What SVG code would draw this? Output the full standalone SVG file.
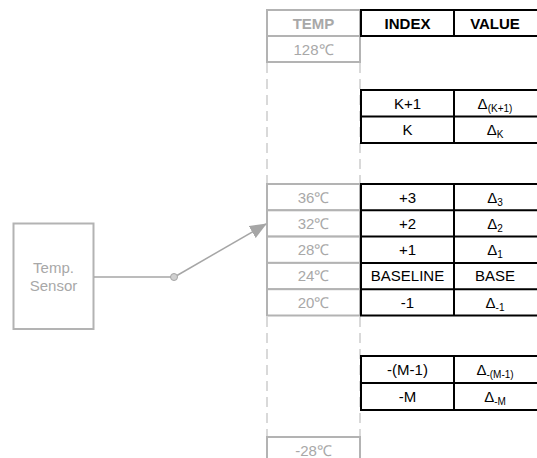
<svg xmlns="http://www.w3.org/2000/svg" width="537" height="458" viewBox="0 0 537 458">
<style>
.g{fill:#fff;stroke:#b3b3b3;stroke-width:2}
.b{fill:#fff;stroke:#000;stroke-width:2}
.d{stroke:#b3b3b3;stroke-width:1;stroke-dasharray:10,6;fill:none}
.gt{font-family:"Liberation Sans",Arial,sans-serif;font-size:15px;fill:#a8a8a8;text-anchor:middle}
.bt{font-family:"Liberation Sans",Arial,sans-serif;font-size:15px;fill:#000;text-anchor:middle}
.hb{font-weight:bold}
.sub{font-size:10px}
.c{stroke:#a6a6a6;stroke-width:1.5;fill:none}
</style>
<defs>
<marker id="ah" markerWidth="17" markerHeight="14" refX="16" refY="7" orient="auto" markerUnits="userSpaceOnUse" viewBox="0 0 17 14">
<path d="M0,0 L17,7 L0,14 z" fill="#a6a6a6"/>
</marker>
</defs>
<rect width="537" height="458" fill="#fff"/>
<g id="dashes">
<line class="d" x1="267" y1="63" x2="267" y2="184"/>
<line class="d" x1="360" y1="63" x2="360" y2="184"/>
<line class="d" x1="267" y1="317" x2="267" y2="437"/>
<line class="d" x1="360" y1="317" x2="360" y2="437"/>
</g>
<g id="temp-col">
<rect class="g" x="267" y="10" width="93" height="26"/>
<text class="gt hb" x="313.5" y="28.5">TEMP</text>
<rect class="g" x="267" y="36" width="93" height="26"/>
<text class="gt" x="313.5" y="54.5">128℃</text>
<rect class="g" x="267" y="184" width="93" height="26.3"/>
<text class="gt" x="313.5" y="202.5">36℃</text>
<rect class="g" x="267" y="210.3" width="93" height="26.3"/>
<text class="gt" x="313.5" y="228.8">32℃</text>
<rect class="g" x="267" y="236.6" width="93" height="26.3"/>
<text class="gt" x="313.5" y="255.1">28℃</text>
<rect class="g" x="267" y="262.9" width="93" height="26.3"/>
<text class="gt" x="313.5" y="281.4">24℃</text>
<rect class="g" x="267" y="289.2" width="93" height="26.3"/>
<text class="gt" x="313.5" y="307.7">20℃</text>
<rect class="g" x="267" y="437" width="93" height="30"/>
<text class="gt" x="313.5" y="455.5">-28℃</text>
</g>
<g id="header">
<rect class="b" x="361" y="10" width="177" height="26"/>
<line stroke="#000" stroke-width="2" x1="454" y1="10" x2="454" y2="36"/>
<text class="bt hb" x="407.5" y="28.5">INDEX</text>
<text class="bt hb" x="495" y="28.5">VALUE</text>
</g>
<g id="k-rows">
<rect class="b" x="361" y="90" width="177" height="53"/>
<line stroke="#000" stroke-width="2" x1="361" y1="116.5" x2="538" y2="116.5"/>
<line stroke="#000" stroke-width="2" x1="454" y1="90" x2="454" y2="143"/>
<text class="bt" x="407.5" y="108.5">K+1</text>
<text class="bt" x="495" y="108.5">Δ<tspan class="sub" dy="3">(K+1)</tspan></text>
<text class="bt" x="407.5" y="135">K</text>
<text class="bt" x="495" y="135">Δ<tspan class="sub" dy="3">K</tspan></text>
</g>
<g id="mid-rows">
<rect class="b" x="361" y="184" width="177" height="131.5"/>
<line stroke="#000" stroke-width="2" x1="361" y1="210.3" x2="538" y2="210.3"/>
<line stroke="#000" stroke-width="2" x1="361" y1="236.6" x2="538" y2="236.6"/>
<line stroke="#000" stroke-width="2" x1="361" y1="262.9" x2="538" y2="262.9"/>
<line stroke="#000" stroke-width="2" x1="361" y1="289.2" x2="538" y2="289.2"/>
<line stroke="#000" stroke-width="2" x1="454" y1="184" x2="454" y2="315.5"/>
<text class="bt" x="407.5" y="202.5">+3</text>
<text class="bt" x="495" y="202.5">Δ<tspan class="sub" dy="3">3</tspan></text>
<text class="bt" x="407.5" y="228.8">+2</text>
<text class="bt" x="495" y="228.8">Δ<tspan class="sub" dy="3">2</tspan></text>
<text class="bt" x="407.5" y="255.1">+1</text>
<text class="bt" x="495" y="255.1">Δ<tspan class="sub" dy="3">1</tspan></text>
<text class="bt" x="407.5" y="281.4">BASELINE</text>
<text class="bt" x="495" y="281.4">BASE</text>
<text class="bt" x="407.5" y="307.7">-1</text>
<text class="bt" x="495" y="307.7">Δ<tspan class="sub" dy="3">-1</tspan></text>
</g>
<g id="m-rows">
<rect class="b" x="361" y="356" width="177" height="54"/>
<line stroke="#000" stroke-width="2" x1="361" y1="383" x2="538" y2="383"/>
<line stroke="#000" stroke-width="2" x1="454" y1="356" x2="454" y2="410"/>
<text class="bt" x="407.5" y="374.5">-(M-1)</text>
<text class="bt" x="495" y="374.5">Δ<tspan class="sub" dy="3">-(M-1)</tspan></text>
<text class="bt" x="407.5" y="401.5">-M</text>
<text class="bt" x="495" y="401.5">Δ<tspan class="sub" dy="3">-M</tspan></text>
</g>
<g id="sensor">
<rect class="g" x="13.5" y="223.5" width="80" height="105.5"/>
<text class="gt" x="53.5" y="273">Temp.</text>
<text class="gt" x="53.5" y="291">Sensor</text>
</g>
<g id="connectors">
<line class="c" x1="94" y1="277" x2="171" y2="277"/>
<line class="c" x1="177" y1="275.5" x2="266" y2="224" marker-end="url(#ah)"/>
<circle cx="174" cy="277" r="3.5" fill="#d0d0d0" stroke="#a6a6a6" stroke-width="1"/>
</g>
</svg>
